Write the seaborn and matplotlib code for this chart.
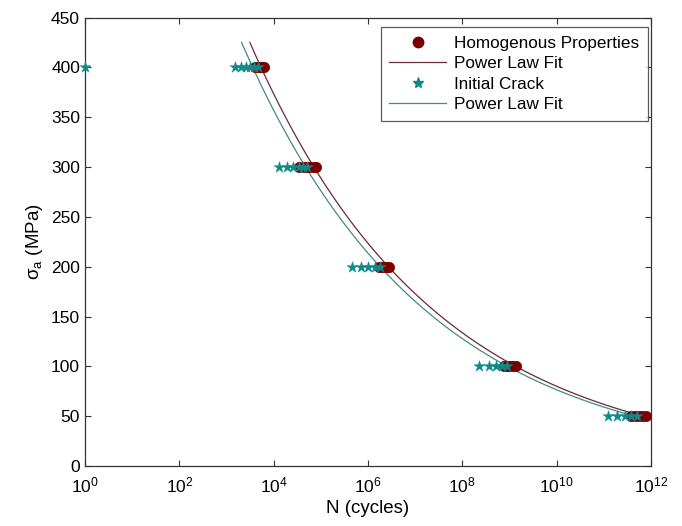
import numpy as np
import pandas as pd
import matplotlib
matplotlib.use("Agg")
import matplotlib.pyplot as plt
import seaborn as sns
from matplotlib.lines import Line2D

# ---- data ----
homog_stress = [400]*5 + [300]*6 + [200]*5 + [100]*5 + [50]*5
homog_cycles = [4.0e3, 4.6e3, 5.1e3, 5.6e3, 6.2e3,
                3.5e4, 4.3e4, 5.0e4, 6.0e4, 7.1e4, 7.8e4,
                1.7e6, 1.9e6, 2.2e6, 2.5e6, 2.8e6,
                7.6e8, 8.9e8, 1.05e9, 1.2e9, 1.35e9,
                3.8e11, 4.6e11, 5.5e11, 6.6e11, 7.8e11]

crack_stress = [400]*7 + [300]*6 + [200]*5 + [100]*5 + [50]*5
crack_cycles = [1.0, 1.5e3, 2.0e3, 2.6e3, 3.2e3, 3.9e3, 4.6e3,
                1.3e4, 1.9e4, 2.6e4, 3.4e4, 4.2e4, 5.0e4,
                4.6e5, 7.0e5, 1.0e6, 1.4e6, 1.8e6,
                2.3e8, 3.6e8, 5.2e8, 7.0e8, 9.0e8,
                1.2e11, 1.9e11, 2.8e11, 3.8e11, 5.0e11]

# power-law fits sigma = 400 * (N / N400)^b
fit_names = ["Homogenous fit", "Crack fit"]
fit_N_at_400 = [5.4e3, 3.6e3]
fit_exponent = [-0.1115, -0.1115]
fit_sigma_range = [425, 48]

red_marker = "#7a0000"
teal_marker = "#0e8a8a"
red_line = "#6b2a35"
teal_line = "#3f8c86"

plt.rcParams["font.family"] = ["Liberation Sans", "DejaVu Sans"]
plt.rcParams["mathtext.fontset"] = "custom"
plt.rcParams["mathtext.rm"] = "Liberation Sans"
plt.rcParams["mathtext.it"] = "Liberation Sans:italic"
plt.rcParams["mathtext.default"] = "regular"

fig = plt.figure(figsize=(6.82, 5.26), dpi=100)
ax = fig.add_axes([0.1246, 0.114, 0.8299, 0.8527])

# fit lines
fit_rows = []
sig = np.linspace(fit_sigma_range[0], fit_sigma_range[1], 200)
for name, n4, b in zip(fit_names, fit_N_at_400, fit_exponent):
    N = n4 * (sig / 400.0) ** (1.0 / b)
    fit_rows.append(pd.DataFrame({"N": N, "sigma": sig, "fit": name}))
fits = pd.concat(fit_rows)
sns.lineplot(data=fits, x="N", y="sigma", hue="fit", sort=False,
             palette={"Homogenous fit": red_line, "Crack fit": teal_line},
             linewidth=0.9, legend=False, ax=ax, estimator=None)

dfh = pd.DataFrame({"N": homog_cycles, "sigma": homog_stress})
dfc = pd.DataFrame({"N": crack_cycles, "sigma": crack_stress})
sns.scatterplot(data=dfh, x="N", y="sigma", marker="o", s=55, color=red_marker,
                edgecolor=red_marker, linewidth=0.5, ax=ax, zorder=3, legend=False)
sns.scatterplot(data=dfc, x="N", y="sigma", marker="*", s=70, color=teal_marker,
                edgecolor=teal_marker, linewidth=0.3, ax=ax, zorder=4, legend=False,
                clip_on=False)

ax.set_xscale("log")
ax.set_xlim(1, 1e12)
ax.set_ylim(0, 450)
ax.set_xticks([10.0**k for k in range(0, 13, 2)])
ax.xaxis.set_minor_locator(matplotlib.ticker.NullLocator())
ax.set_yticks(range(0, 451, 50))
ax.tick_params(direction="in", length=4, width=0.8, labelsize=12.5, top=True, right=True,
               colors="#333333", labelcolor="black")
ax.tick_params(axis="x", pad=7)
for sp in ax.spines.values():
    sp.set_linewidth(0.9)
    sp.set_color("#333333")
ax.set_xlabel("N (cycles)", fontsize=13.5, labelpad=3)
ax.set_ylabel(r"$\sigma_a$ (MPa)", fontsize=13.5, labelpad=4)

handles = [
    Line2D([], [], marker="o", linestyle="none", color=red_marker, markersize=7.5),
    Line2D([], [], color=red_line, linewidth=0.9),
    Line2D([], [], marker="*", linestyle="none", color=teal_marker, markersize=8),
    Line2D([], [], color=teal_line, linewidth=0.9),
]
labels = ["Homogenous Properties", "Power Law Fit", "Initial Crack", "Power Law Fit"]
leg = ax.legend(handles, labels, loc="upper right", bbox_to_anchor=(0.9947, 0.9788),
                fontsize=12.3, frameon=True, fancybox=False, edgecolor="#333333",
                handlelength=3.3, borderaxespad=0.0, labelspacing=0.33,
                handletextpad=0.5, borderpad=0.5)
leg.get_frame().set_linewidth(0.9)

fig.savefig("out.png", dpi=100, facecolor="white")
